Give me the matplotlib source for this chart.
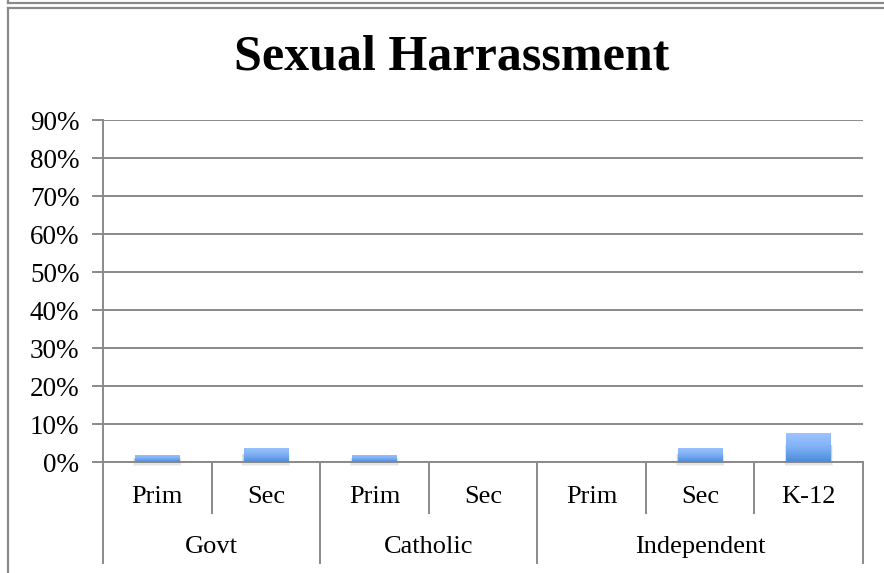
import matplotlib
matplotlib.use("Agg")
import matplotlib.pyplot as plt
import matplotlib.transforms as mtransforms
from matplotlib.patches import Rectangle
from matplotlib.lines import Line2D
import numpy as np

plt.rcParams['font.family'] = ['Liberation Serif', 'DejaVu Serif']

# Data
groups = ["Govt", "Catholic", "Independent"]
group_sizes = [2, 2, 3]
school_types = ["Prim", "Sec", "Prim", "Sec", "Prim", "Sec", "K-12"]
values = [0.019, 0.037, 0.019, 0.0, 0.0, 0.037, 0.076]
yticks = [0.0, 0.1, 0.2, 0.3, 0.4, 0.5, 0.6, 0.7, 0.8, 0.9]
title = "Sexual Harrassment"

W, H = 884, 573
fig = plt.figure(figsize=(W / 100, H / 100), dpi=100)
fig.patch.set_facecolor("white")

grey = "#8a8a8a"

# Outer frames
frame_kw = dict(color=grey, lw=1.6, transform=fig.transFigure)
fig.add_artist(Line2D([8 / W, 1], [1 - 3 / H, 1 - 3 / H], **frame_kw))
fig.add_artist(Line2D([8 / W, 8 / W], [1, 1 - 3 / H], **frame_kw))
fig.add_artist(Line2D([8 / W, 1], [1 - 8 / H, 1 - 8 / H], **frame_kw))
fig.add_artist(Line2D([8 / W, 8 / W], [1 - 8 / H, 0], **frame_kw))

x0, x1 = 103, 863
y0, y1 = 462, 120
ax = fig.add_axes([x0 / W, 1 - y0 / H, (x1 - x0) / W, (y0 - y1) / H])

n = len(school_types)
x = np.arange(n)
bar_w = 0.41

ax.set_xlim(-0.5, n - 0.5)
ax.set_ylim(0, 0.9)

# Gradient bars with a soft shadow underneath
grad = np.linspace(0, 1, 256).reshape(-1, 1)
cmap = matplotlib.colors.LinearSegmentedColormap.from_list(
    "barblue", ["#4a8bdc", "#7fb0f5", "#9cc4ff"])
for xi, v in zip(x, values):
    if v <= 0:
        continue
    for k, a in enumerate([0.07, 0.09, 0.12]):
        pad = 0.006 * (3 - k)
        sh = Rectangle((xi - bar_w / 2 - pad, -0.0035 * (3 - k)), bar_w + 2 * pad,
                       v * 0.6 + 0.0035 * (3 - k), facecolor="#555555",
                       edgecolor="none", alpha=a, zorder=2, clip_on=False)
        ax.add_patch(sh)
    rect = Rectangle((xi - bar_w / 2, 0), bar_w, v, facecolor="none",
                     edgecolor="none", zorder=3)
    ax.add_patch(rect)
    im = ax.imshow(grad, cmap=cmap, aspect="auto", origin="lower",
                   extent=(xi - bar_w / 2, xi + bar_w / 2, 0, v), zorder=3)
    im.set_clip_path(rect)

ax.set_xlim(-0.5, n - 0.5)
ax.set_ylim(0, 0.9)

# Gridlines and y axis
ax.set_yticks(yticks)
ax.set_yticklabels([f"{int(round(t * 100))}%" for t in yticks], fontsize=19.5)
ax.yaxis.grid(True, color=grey, lw=1.4)
ax.set_axisbelow(True)
ax.tick_params(axis="y", length=8, width=1.4, color=grey, pad=9)
for s in ["top", "right"]:
    ax.spines[s].set_visible(False)
ax.spines["left"].set_color(grey)
ax.spines["left"].set_linewidth(1.4)
ax.spines["bottom"].set_color(grey)
ax.spines["bottom"].set_linewidth(1.4)
ax.set_xticks([])

# Two-level category axis
px = 1.0 / (y0 - y1)
trans = mtransforms.blended_transform_factory(ax.transData, ax.transAxes)
bounds = np.cumsum([0] + group_sizes) - 0.5
group_edges = set(np.round(bounds, 2))
for b in np.arange(-0.5, n, 1.0):
    depth = 101 if round(b, 2) in group_edges else 51
    ax.add_line(Line2D([b, b], [0, -depth * px], color=grey, lw=1.4,
                       transform=trans, clip_on=False))
for xi, lab in zip(x, school_types):
    ax.text(xi, -35 * px, lab, transform=trans, ha="center", va="center",
            fontsize=19)
for g, (a, b) in zip(groups, zip(bounds[:-1], bounds[1:])):
    ax.text((a + b) / 2, -85 * px, g, transform=trans, ha="center",
            va="center", fontsize=19)

fig.text(452 / W, 1 - 57 / H, title, ha="center",
         va="center", fontsize=36, fontweight="bold")

fig.savefig("out.png", dpi=100)
